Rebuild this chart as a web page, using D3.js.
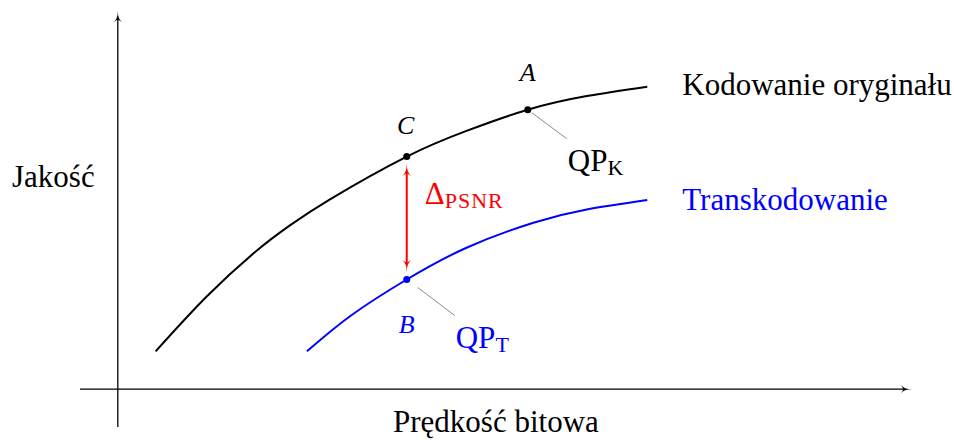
<!DOCTYPE html>
<html>
<head>
<meta charset="utf-8">
<script src="https://cdn.jsdelivr.net/npm/d3@7"></script>
<style>
  html, body { margin: 0; padding: 0; background: #fff; }
  svg { display: block; }
</style>
</head>
<body>
<svg id="chart" width="954" height="440"></svg>
<script>
// ---- data (abstract units: bitrate vs quality) ----
const originalX = [1, 2.35, 3.67, 4.55, 5.61, 7.64, 9.22, 10.84, 12.40, 14];
const originalY = [1, 2.45, 3.66, 4.33, 5.02, 6.15, 6.83, 7.39, 7.75, 8];
const transX    = [5, 6.14, 7.64, 9.22, 10.99, 12.40, 14];
const transY    = [1, 1.93, 2.90, 3.74, 4.40, 4.75, 5];
const pointNames = ["A", "C", "B"];
const pointX     = [10.84, 7.64, 7.64];
const pointY     = [7.39, 6.15, 2.90];
const seriesNames = ["Kodowanie oryginału", "Transkodowanie"];
const axisLabels  = ["Prędkość bitowa", "Jakość"];
const xDomain = [-1, 21];
const yDomain = [-1, 10];

const FONT = "'Liberation Serif', 'DejaVu Serif', serif";

// ---- scales ----
const x = d3.scaleLinear().domain(xDomain).range([80, 912]);
const y = d3.scaleLinear().domain(yDomain).range([427, 11]);

const svg = d3.select("#chart");
const BLACK = "#000", BLUE = "#0000ff", RED = "#ff0000", GRAY = "#8a8a8a";

// ---- axes ----
const x0 = x(0), y0 = y(0);
svg.append("line").attr("x1", x(xDomain[0])).attr("x2", x(xDomain[1]) - 8)
  .attr("y1", y0).attr("y2", y0).attr("stroke", BLACK).attr("stroke-width", 1.3);
svg.append("line").attr("x1", x0).attr("x2", x0)
  .attr("y1", y(yDomain[0])).attr("y2", y(yDomain[1]) + 8).attr("stroke", BLACK).attr("stroke-width", 1.3);

function arrowHead(tipX, tipY, dx, dy, len, half, color) {
  const bx = tipX - dx * len, by = tipY - dy * len;
  const px = -dy, py = dx;
  const p = d3.path();
  p.moveTo(tipX, tipY);
  p.quadraticCurveTo(bx + dx * len * 0.25, by + dy * len * 0.25, bx + px * half, by + py * half);
  p.lineTo(bx + dx * len * 0.22, by + dy * len * 0.22);
  p.lineTo(bx - px * half, by - py * half);
  p.quadraticCurveTo(bx + dx * len * 0.25, by + dy * len * 0.25, tipX, tipY);
  p.closePath();
  svg.append("path").attr("d", p.toString()).attr("fill", color);
}
arrowHead(x(xDomain[1]), y0, 1, 0, 11, 4.2, BLACK);
arrowHead(x0, y(yDomain[1]), 0, -1, 11, 4.2, BLACK);

// ---- curves ----
const line = d3.line().x(d => x(d[0])).y(d => y(d[1])).curve(d3.curveNatural);
svg.append("path").datum(originalX.map((v, i) => [v, originalY[i]]))
  .attr("d", line).attr("fill", "none").attr("stroke", BLACK).attr("stroke-width", 2);
svg.append("path").datum(transX.map((v, i) => [v, transY[i]]))
  .attr("d", line).attr("fill", "none").attr("stroke", BLUE).attr("stroke-width", 2);

// ---- points ----
const P = {};
pointNames.forEach((n, i) => { P[n] = { x: x(pointX[i]), y: y(pointY[i]) }; });

svg.append("line").attr("x1", P.A.x + 4).attr("y1", P.A.y + 3).attr("x2", P.A.x + 39).attr("y2", P.A.y + 29)
  .attr("stroke", GRAY).attr("stroke-width", 1);
svg.append("line").attr("x1", P.B.x + 11).attr("y1", P.B.y + 8).attr("x2", P.B.x + 48).attr("y2", P.B.y + 36)
  .attr("stroke", GRAY).attr("stroke-width", 1);

svg.append("line").attr("x1", P.C.x).attr("x2", P.C.x).attr("y1", P.C.y + 16).attr("y2", P.B.y - 16)
  .attr("stroke", RED).attr("stroke-width", 2);
arrowHead(P.C.x, P.C.y + 7, 0, -1, 12.5, 4.6, RED);
arrowHead(P.B.x, P.B.y - 7, 0, 1, 12.5, 4.6, RED);

pointNames.forEach(n => {
  svg.append("circle").attr("cx", P[n].x).attr("cy", P[n].y).attr("r", 3.5)
    .attr("fill", n === "B" ? BLUE : BLACK);
});

// ---- labels ----
function label(txt, xx, yy, opts = {}) {
  return svg.append("text").attr("x", xx).attr("y", yy)
    .attr("font-family", FONT)
    .attr("font-size", opts.size || 31)
    .attr("font-style", opts.italic ? "italic" : "normal")
    .attr("text-anchor", opts.anchor || "start")
    .attr("fill", opts.color || BLACK)
    .text(txt);
}
label("A", P.A.x, P.A.y - 29, { italic: true, size: 26, anchor: "middle" });
label("C", P.C.x - 1, P.C.y - 23, { italic: true, size: 26, anchor: "middle" });
label("B", P.B.x, P.B.y + 53, { italic: true, size: 26, anchor: "middle", color: BLUE });

function subLabel(main, sub, xx, yy, color) {
  const t = label("", xx, yy, { color });
  t.append("tspan").text(main);
  t.append("tspan").attr("font-size", 22).attr("letter-spacing", 1).attr("dy", 4).text(sub);
}
subLabel("QP", "K", P.A.x + 40, P.A.y + 61, BLACK);
subLabel("QP", "T", P.B.x + 49, P.B.y + 68, BLUE);
subLabel("Δ", "PSNR", P.C.x + 18, (P.C.y + P.B.y) / 2 - 14, RED);

const endO = { x: x(originalX[originalX.length - 1]), y: y(originalY[originalY.length - 1]) };
const endT = { x: x(transX[transX.length - 1]), y: y(transY[transY.length - 1]) };
label(seriesNames[0], endO.x + 35, endO.y + 8, { color: BLACK });
label(seriesNames[1], endT.x + 35, endT.y + 10, { color: BLUE });

label(axisLabels[0], (x0 + x(xDomain[1])) / 2 - 19, y0 + 43, { anchor: "middle" });
label(axisLabels[1], 12, 187, {});
</script>
</body>
</html>
